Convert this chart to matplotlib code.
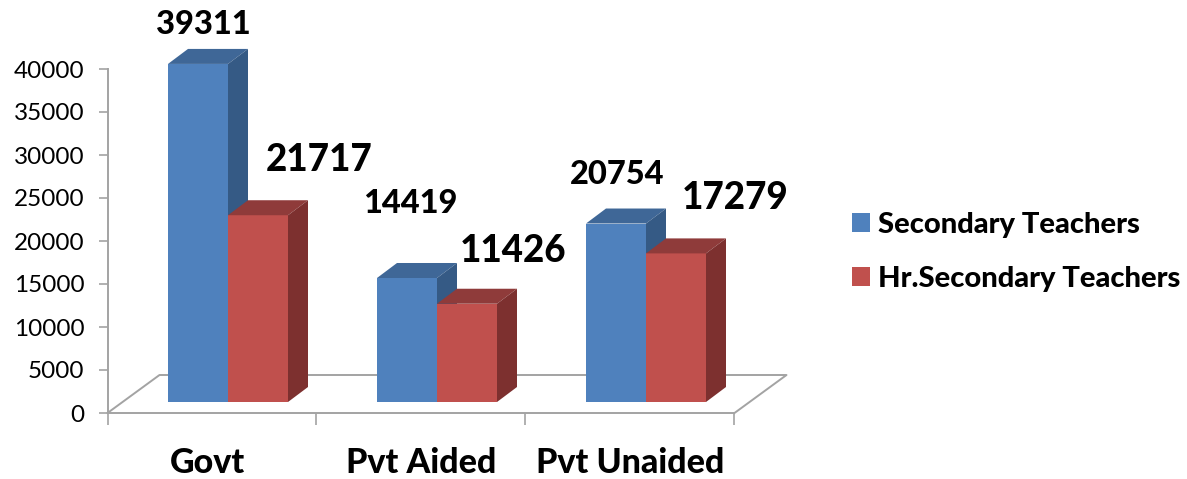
#!/usr/bin/env python

import matplotlib
matplotlib.use('Agg')
import matplotlib.pyplot as plt
from matplotlib.patches import Patch, Polygon

plt.rcParams['font.family'] = ['Lato', 'DejaVu Sans']

categories = ['Govt', 'Pvt Aided', 'Pvt Unaided']
secondary = [39311, 14419, 20754]
hr_secondary = [21717, 11426, 17279]
yticks = [0, 5000, 10000, 15000, 20000, 25000, 30000, 35000, 40000]

BLUE, BLUE_TOP, BLUE_SIDE = '#4F81BD', '#3F6797', '#355A85'
RED, RED_TOP, RED_SIDE = '#C0504D', '#8F3B3A', '#7D302F'
GREY = '#A3A3A3'

W, H = 1187, 479
X0, XW = 107.5, 209.0       # pixel of first tick, pixels per category
Y0, PXV = 413.0, 344/40000. # pixel of zero, pixels per unit

def ux(px):
    return px/XW

def uy(px):
    return px/PXV

def bar3d(ax, x, width, base, value, front, top, side):
    dx, dy = ux(20), uy(15)
    ax.bar(x, value, width, bottom=base, align='edge', color=front, clip_on=False, zorder=3)
    t = base + value
    r = x + width
    ax.add_patch(Polygon([(x, t), (r, t), (r+dx, t+dy), (x+dx, t+dy)], color=top, lw=0, clip_on=False, zorder=3))
    ax.add_patch(Polygon([(r, base), (r+dx, base+dy), (r+dx, t+dy), (r, t)], color=side, lw=0, clip_on=False, zorder=3))

def main():
    fig = plt.figure(figsize=(W/100., H/100.), dpi=100)
    ax = fig.add_axes([X0/W, 1-Y0/H, 3*XW/W, 344./H])
    ax.set_xlim(0, 3)
    ax.set_ylim(0, 40000)

    for s in ['top', 'right']:
        ax.spines[s].set_visible(False)
    for s in ['left', 'bottom']:
        ax.spines[s].set_color(GREY)
        ax.spines[s].set_linewidth(1.4)

    ax.set_yticks(yticks)
    ax.tick_params(axis='y', length=6.5, width=1.2, color=GREY, labelsize=17.5, pad=10)
    ax.set_xticks([0, 1, 2, 3])
    ax.set_xticklabels([])
    ax.tick_params(axis='x', length=8.5, width=1.2, color=GREY)

    # floor of the 3d box
    fx, fy = ux(52), uy(38)
    ax.plot([0, fx, 3+fx, 3], [0, fy, fy, 0], color=GREY, lw=1.4, clip_on=False, zorder=2)

    bw = ux(60)
    off = ux(60.5)
    base = uy(11)
    for i in range(len(categories)):
        bar3d(ax, i+off, bw, base, secondary[i], BLUE, BLUE_TOP, BLUE_SIDE)
        bar3d(ax, i+off+bw, bw, base, hr_secondary[i], RED, RED_TOP, RED_SIDE)

    # value labels, pixel offsets from the top of each bar
    sec_off = [(5, 39), (3, 74), (1, 49)]
    hr_off = [(61, 55), (46, 53), (59, 55)]
    sec_size = [23.5, 23.5, 23.5]
    hr_size = [26.5, 26.5, 26.5]
    for i in range(len(categories)):
        ax.annotate(str(secondary[i]), (i+off+bw/2., base+secondary[i]), xytext=sec_off[i],
                    textcoords='offset pixels', ha='center', va='center', fontsize=sec_size[i],
                    fontweight='black', annotation_clip=False, zorder=5)
        ax.annotate(str(hr_secondary[i]), (i+off+1.5*bw, base+hr_secondary[i]), xytext=hr_off[i],
                    textcoords='offset pixels', ha='center', va='center', fontsize=hr_size[i],
                    fontweight='black', annotation_clip=False, zorder=5)

    # category names
    cat_x = [0.48, 1.5, 2.5]
    for i, name in enumerate(categories):
        ax.text(cat_x[i], -uy(50), name, ha='center', va='center', fontsize=24.5, fontweight='black')

    handles = [Patch(color=BLUE, lw=0), Patch(color=RED, lw=0)]
    fig.legend(handles, ['Secondary Teachers', 'Hr.Secondary Teachers'], loc='upper left',
               bbox_to_anchor=(852/W, 1-212/H), borderaxespad=0, borderpad=0, frameon=False,
               prop={'size': 21, 'weight': 'black'}, handlelength=0.62, handleheight=0.62,
               handletextpad=0.27, labelspacing=0.95)

    fig.savefig('out.png', dpi=100)

if __name__ == "__main__":
    main()
